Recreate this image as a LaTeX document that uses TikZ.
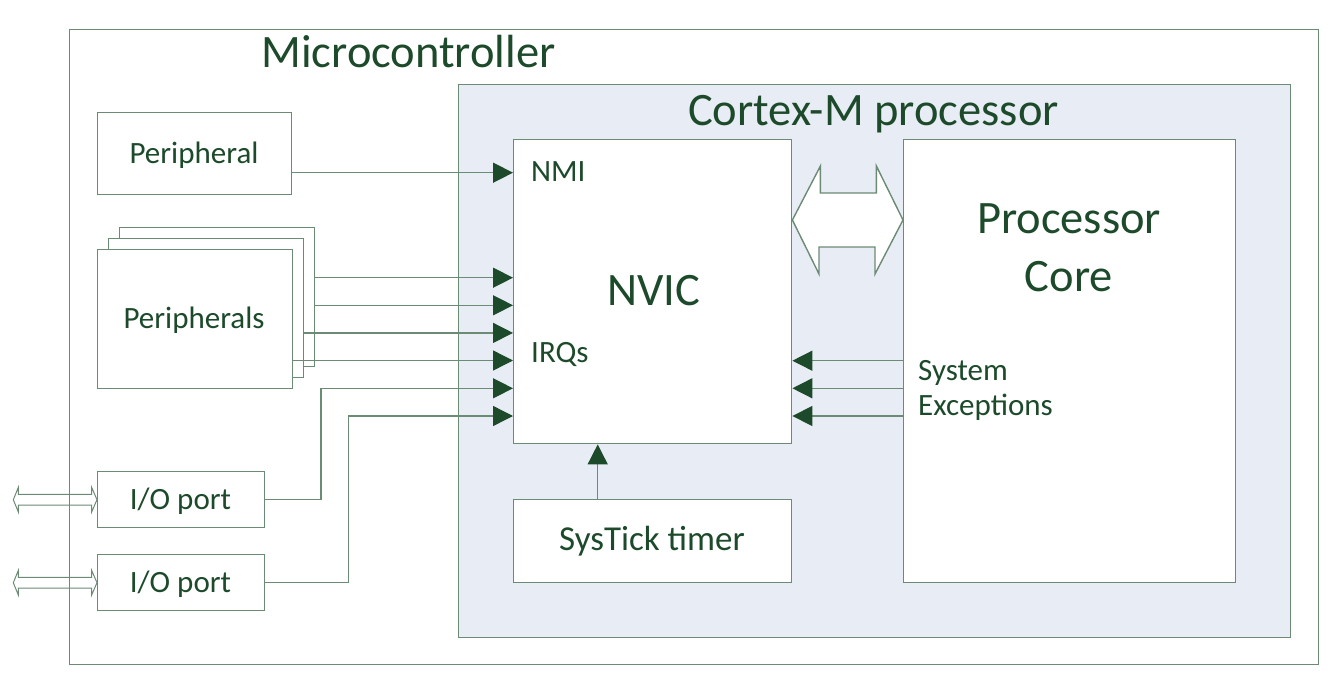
\documentclass[tikz,border=0pt]{standalone}
\usepackage{fontspec}
\setmainfont{Carlito}
\usetikzlibrary{arrows.meta}
\definecolor{lineg}{HTML}{6C8B74}
\definecolor{textg}{HTML}{1C4A2A}
\definecolor{cpufill}{HTML}{E8ECF4}
\tikzset{
  blk/.style={draw=lineg,line width=1.4pt,fill=white,inner sep=0pt,anchor=north west},
  lbl/.style={text=textg,inner sep=0pt,anchor=base,font=\fontsize{31}{37}\selectfont},
  biglbl/.style={lbl,font=\fontsize{46.5}{52}\selectfont},
  sig/.style={draw=lineg,line width=1.4pt,-{Triangle[length=20pt,width=20pt,color=textg]}},
}
\begin{document}
\begin{tikzpicture}[x=1pt,y=-1pt]
			\useasboundingbox (0,0) rectangle (1341,698);
			% boxes
			\node[blk,fill=none,minimum width=1249pt,minimum height=635pt] (mcu) at (69,29) {};
			\node[blk,fill=cpufill,minimum width=832pt,minimum height=553pt] (cpu) at (458,84) {};
			\node[blk,minimum width=278pt,minimum height=304pt] (nvic) at (513,139) {};
			\node[blk,minimum width=332pt,minimum height=443pt] (core) at (903,139) {};
			\node[blk,minimum width=278pt,minimum height=83pt] (systick) at (513,499) {};
			\node[blk,minimum width=194pt,minimum height=82pt] (periph) at (97,112) {};
			\node[blk,minimum width=195pt,minimum height=139pt] (back) at (119,227) {};
			\node[blk,minimum width=195pt,minimum height=139pt] (mid) at (108,238) {};
			\node[blk,minimum width=195pt,minimum height=139pt] (front) at (97,249) {};
			\node[blk,minimum width=167pt,minimum height=56pt] (io1) at (97,471) {};
			\node[blk,minimum width=167pt,minimum height=56pt] (io2) at (97,554) {};
			% texts
			\node[biglbl] (mcutxt) at (408.5,67.7) {Microcontroller};
			\node[biglbl] (cputxt) at (873.5,126) {Cortex-M processor};
			\node[biglbl] (nvictxt) at (653.5,305.7) {NVIC};
			\node[lbl,anchor=base west] (nmitxt) at (531,181.7) {NMI};
			\node[lbl,anchor=base west] (irqtxt) at (531,362.7) {IRQs};
			\node[biglbl] (coretxta) at (1069,233.3) {Processor};
			\node[biglbl] (coretxtb) at (1069,291.7) {Core};
			\node[lbl,anchor=base west] (exctxta) at (918,380) {System};
			\node[lbl,anchor=base west] (exctxtb) at (918,415.5) {Exceptions};
			\node[lbl] (periphtxt) at (194,163.3) {Peripheral};
			\node[lbl] (periphstxt) at (194,328.3) {Peripherals};
			\node[lbl] (io1txt) at (180.5,509.3) {I/O port};
			\node[lbl] (io2txt) at (180.5,592.7) {I/O port};
			\node[lbl,font=\fontsize{35}{40}\selectfont] (systicktxt) at (652,550.7) {SysTick timer};
			% NMI
			\draw[sig] ([yshift=-19pt]periph.east) coordinate (nmi0) -- (nmi0 -| nvic.west);
			% IRQs
			\foreach \i/\src in {0/back,1/back,2/mid,3/front}{
				\pgfmathsetmacro\yy{277.7+27.6*\i}
				\draw[sig] (\src.east |- 0,\yy) -- (nvic.west |- 0,\yy);
			}
			\draw[sig] (io1.east) -- ++(55.5,0) |- (nvic.west |- 0,388.3);
			\draw[sig] (io2.east) -- ++(83,0) |- (nvic.west |- 0,416);
			% system exceptions
			\foreach \yy in {360.7,388.3,416}
				\draw[sig] (core.west |- 0,\yy) -- (nvic.east |- 0,\yy);
			\draw[sig] ([xshift=-55pt]systick.north) -- ([xshift=-55pt]nvic.south);
			% bus between NVIC and core
			\draw[lineg,line width=1.4pt,fill=white] (nvic.east |- 0,220) -- ++(28,-54) -- ++(0,27) -- ++(56,0) -- ++(0,-27)
				-- (core.west |- 0,220) -- ++(-28,54) -- ++(0,-27) -- ++(-56,0) -- ++(0,27) -- cycle;
			% I/O pins
			\foreach \p in {io1,io2}
				\draw[lineg,line width=1pt] (\p.west) -- ++(-5.3,-12.2) -- ++(0,6.9) -- ++(-73.4,0) -- ++(0,-6.9) -- ++(-5,12.2)
					-- ++(5,12.2) -- ++(0,-6.9) -- ++(73.4,0) -- ++(0,6.9) -- cycle;
		\end{tikzpicture}
\end{document}
